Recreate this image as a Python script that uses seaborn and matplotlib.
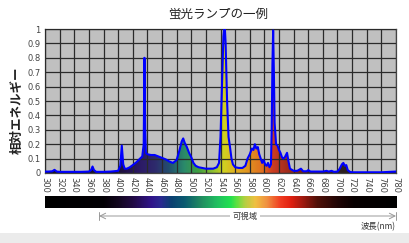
import numpy as np
import pandas as pd
import matplotlib
matplotlib.use("Agg")
import matplotlib.pyplot as plt
import seaborn as sns
from matplotlib.colors import LinearSegmentedColormap
from matplotlib.patches import Rectangle
from matplotlib.lines import Line2D

# ---- data ----
wavelength = [300, 305, 310, 313, 316, 320, 330, 340, 350, 360, 363, 365, 367, 370, 380, 390,
              400, 403, 405, 407, 409, 412, 416, 420, 425, 430, 433, 435, 436, 437, 438, 440,
              445, 450, 455, 460, 465, 470, 475, 480, 484, 487, 489, 491, 494, 497, 500, 503,
              506, 510, 515, 520, 525, 530, 535, 538, 540, 542, 544, 545, 546, 547, 549, 551,
              553, 555, 557, 560, 565, 570, 574, 577, 580, 583, 585, 587, 589, 591, 593, 595,
              597, 599, 601, 603, 605, 607, 609, 610, 611, 612, 613, 614, 616, 618, 620, 622,
              624, 626, 628, 631, 633, 635, 640, 645, 650, 653, 658, 660, 663, 670, 680, 685,
              688, 692, 695, 700, 703, 706, 708, 710, 712, 714, 717, 720, 740, 760, 780]
energy = [0.01, 0.01, 0.012, 0.022, 0.01, 0.008, 0.008, 0.008, 0.008, 0.01, 0.02, 0.045, 0.02, 0.008, 0.008, 0.01,
          0.015, 0.05, 0.19, 0.06, 0.03, 0.03, 0.04, 0.055, 0.075, 0.10, 0.115, 0.2, 0.80, 0.3, 0.14, 0.13,
          0.125, 0.125, 0.115, 0.105, 0.095, 0.08, 0.07, 0.09, 0.16, 0.22, 0.24, 0.21, 0.18, 0.14, 0.11, 0.07,
          0.05, 0.04, 0.035, 0.03, 0.03, 0.03, 0.04, 0.07, 0.25, 0.6, 0.95, 1.0, 1.0, 0.9, 0.5, 0.25,
          0.18, 0.10, 0.06, 0.04, 0.035, 0.035, 0.05, 0.10, 0.13, 0.17, 0.16, 0.20, 0.17, 0.18, 0.13, 0.10,
          0.07, 0.09, 0.06, 0.05, 0.07, 0.04, 0.06, 0.3, 0.75, 0.99, 0.7, 0.35, 0.2, 0.19, 0.16, 0.14,
          0.11, 0.10, 0.11, 0.14, 0.08, 0.03, 0.015, 0.015, 0.03, 0.012, 0.012, 0.02, 0.01, 0.01, 0.01, 0.015,
          0.01, 0.015, 0.008, 0.01, 0.03, 0.06, 0.07, 0.05, 0.055, 0.02, 0.008, 0.005, 0.005, 0.005, 0.01]

x_ticks = list(range(300, 781, 20))
y_ticks = [0, 0.1, 0.2, 0.3, 0.4, 0.5, 0.6, 0.7, 0.8, 0.9, 1]
y_tick_labels = ["0", "0.1", "0.2", "0.3", "0.4", "0.5", "0.6", "0.7", "0.8", "0.9", "1"]

title = "蛍光ランプの一例"
ylabel = "相対エネルギー"
visible_label = "可視域"
wl_label = "波長(nm)"

# colour stops (nm, colour) for the filled area and the colour bar
fill_stops = [(300, "#151020"), (395, "#1a1030"), (410, "#22124a"), (430, "#2c1a66"), (450, "#2e2a6c"),
              (470, "#23506e"), (490, "#2a8a6a"), (510, "#40a040"), (530, "#90c030"), (545, "#d0d020"),
              (560, "#e0b020"), (580, "#e09020"), (597, "#e07020"), (610, "#d04020"), (625, "#b03020"),
              (640, "#902818"), (660, "#602018"), (700, "#302020"), (780, "#202020")]
bar_stops = [(300, "#000000"), (380, "#030005"), (400, "#12061f"), (420, "#220a45"), (445, "#30148a"),
             (458, "#2a2a90"), (472, "#0a4070"), (490, "#0a5a70"), (512, "#208a60"), (535, "#20c060"),
             (553, "#20e050"), (562, "#60e040"), (572, "#b0d040"), (587, "#f0c040"), (603, "#f09040"),
             (622, "#f03a20"), (636, "#e02010"), (652, "#a01a10"), (672, "#501008"), (700, "#200505"),
             (722, "#080000"), (780, "#000000")]


def make_cmap(stops, name):
    lo, hi = stops[0][0], stops[-1][0]
    return LinearSegmentedColormap.from_list(name, [((w - lo) / (hi - lo), c) for w, c in stops])


fill_cmap = make_cmap(fill_stops, "fillspec")
bar_cmap = make_cmap(bar_stops, "barspec")

df = pd.DataFrame({"wavelength": wavelength, "energy": energy})

sns.set_style("white")
plt.rcParams["font.family"] = ["Noto Sans CJK JP", "DejaVu Sans"]

W, H = 409, 243
fig = plt.figure(figsize=(W / 100, H / 100), dpi=100)
fig.patch.set_facecolor("white")


def fx(px):
    return px / W


def fy(py):
    return 1 - py / H


# bottom grey band
fig.add_artist(Rectangle((0, 0), 1, fy(233), transform=fig.transFigure, facecolor="#ebebeb",
                         edgecolor="none", zorder=0))

ax = fig.add_axes([fx(45), fy(173), fx(396) - fx(45), fy(29) - fy(173)])
ax.set_facecolor("#c0c0c0")

# gradient fill under the curve
poly = ax.fill_between(df["wavelength"], df["energy"], 0, facecolor="none", edgecolor="none")
grad = np.linspace(300, 780, 960).reshape(1, -1)
im = ax.imshow(grad, extent=[300, 780, 0, 1], aspect="auto", cmap=fill_cmap, vmin=300, vmax=780,
               origin="lower", zorder=1, interpolation="bilinear")
im.set_clip_path(poly.get_paths()[0], transform=ax.transData)

sns.lineplot(data=df, x="wavelength", y="energy", ax=ax, color="#0000ff", linewidth=1.5, zorder=3)

ax.set_xlim(300, 780)
ax.set_ylim(0, 1)
ax.set_xticks(x_ticks)
ax.set_xticklabels([str(t) for t in x_ticks], rotation=-90, fontsize=6, color="#444444",
                   family="DejaVu Sans")
ax.set_yticks(y_ticks)
ax.set_yticklabels(y_tick_labels, fontsize=6, color="#444444", family="DejaVu Sans")
ax.tick_params(length=0, pad=3)
ax.set_axisbelow(False)
ax.grid(True, color="#2a2a2a", linewidth=0.9, zorder=2)
ax.set_xlabel("")
ax.set_ylabel("")
for s in ax.spines.values():
    s.set_color("#444444")
    s.set_linewidth(0.9)

# colour bar
cax = fig.add_axes([fx(45), fy(208), fx(397) - fx(45), fy(196) - fy(208)])
cax.imshow(grad, extent=[300, 780, 0, 1], aspect="auto", cmap=bar_cmap, vmin=300, vmax=780)
cax.set_axis_off()

# texts
fig.text(fx(218), fy(14), title, ha="center", va="center", fontsize=9, color="#222222")
fig.text(fx(17), fy(110), ylabel, ha="center", va="center", rotation=90, fontsize=9,
         fontweight="bold", color="#222222")

# visible-range arrow
yv = fy(216)
ax_arr = dict(arrowstyle="->", color="#999999", linewidth=0.7, shrinkA=0, shrinkB=0)
fig.add_artist(matplotlib.text.Annotation("", xy=(fx(99), yv), xytext=(fx(245), yv),
                                          xycoords="figure fraction", textcoords="figure fraction",
                                          arrowprops=ax_arr))
fig.add_artist(matplotlib.text.Annotation("", xy=(fx(396), yv), xytext=(fx(245), yv),
                                          xycoords="figure fraction", textcoords="figure fraction",
                                          arrowprops=ax_arr))
for xe in (99, 396):
    fig.add_artist(Line2D([fx(xe), fx(xe)], [fy(212), fy(220)], transform=fig.transFigure,
                          color="#999999", linewidth=0.7))
fig.text(fx(245), yv, visible_label, ha="center", va="center", fontsize=6, color="#333333",
         bbox=dict(facecolor="white", edgecolor="none", pad=1.5))
fig.text(fx(396), fy(227), wl_label, ha="right", va="center", fontsize=6, color="#333333")

fig.savefig("out.png", dpi=100)
